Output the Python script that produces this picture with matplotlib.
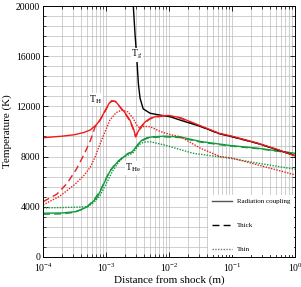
import numpy as np
import matplotlib
matplotlib.use('Agg')
from matplotlib import pyplot as plt
from matplotlib.ticker import MultipleLocator, LogLocator, NullFormatter

plt.rcParams['font.family'] = 'serif'
plt.rcParams['font.serif'] = ['Liberation Serif', 'DejaVu Serif']
plt.rcParams['mathtext.fontset'] = 'stix'

# distances are stored as log10(m)
# T_H, radiation coupling
h_coupled_x = [-4.0, -3.7, -3.5, -3.35, -3.25, -3.15, -3.08, -3.0, -2.95, -2.91, -2.85, -2.78, -2.70,
               -2.62, -2.56, -2.53, -2.50, -2.45, -2.38, -2.30, -2.20, -2.10, -2.0, -1.82, -1.5, -1.2,
               -1.0, -0.6, -0.3, 0.0]
h_coupled_t = [9500, 9620, 9740, 9920, 10120, 10550, 11050, 11800, 12250, 12450, 12400, 11980, 11500,
               10900, 10150, 9600, 9900, 10350, 10750, 11050, 11200, 11260, 11270, 11100, 10450, 9850,
               9620, 9080, 8600, 8050]
# T_H, thick
h_thick_x = [-4.0, -3.78, -3.62, -3.47, -3.35, -3.25, -3.175, -3.095, -3.0, -2.95, -2.91, -2.85, -2.78,
             -2.70, -2.62, -2.56, -2.53, -2.50, -2.45, -2.38, -2.30, -2.20, -2.10, -2.0, -1.82, -1.5,
             -1.2, -1.0, -0.6, -0.3, 0.0]
h_thick_t = [4400, 5000, 5850, 7000, 8150, 9250, 10350, 10880, 11750, 12200, 12420, 12380, 11950,
             11450, 10820, 10080, 9560, 9860, 10300, 10720, 11000, 11150, 11220, 11220, 11060, 10400,
             9820, 9580, 9050, 8570, 8080]
# T_H, thin
h_thin_x = [-4.0, -3.73, -3.49, -3.35, -3.25, -3.17, -3.095, -2.94, -2.84, -2.75, -2.65, -2.57, -2.51,
            -2.46, -2.40, -2.30, -2.14, -1.98, -1.82, -1.5, -1.19, -1.0, -0.59, 0.0]
h_thin_t = [4140, 4850, 5800, 6500, 7150, 8000, 9000, 10900, 11500, 11700, 11550, 11050, 10500,
            10250, 10400, 10380, 10000, 9750, 9580, 8660, 8000, 7880, 7330, 6540]

# T_He, radiation coupling
he_coupled_x = [-4.0, -3.7, -3.47, -3.3, -3.15, -3.095, -2.99, -2.94, -2.88, -2.81, -2.725, -2.65, -2.59,
                -2.54, -2.49, -2.43, -2.35, -2.25, -2.06, -1.82, -1.5, -1.03, -0.59, 0.0]
he_coupled_t = [3480, 3500, 3610, 3980, 4680, 5200, 6300, 6800, 7200, 7600, 7950, 8250, 8350,
                8650, 9000, 9300, 9500, 9580, 9620, 9560, 9200, 8880, 8660, 8260]
# T_He, thick
he_thick_x = [-4.0, -3.7, -3.55, -3.4, -3.3, -3.2, -3.095, -2.99, -2.94, -2.88, -2.81, -2.725, -2.65,
              -2.59, -2.54, -2.49, -2.43, -2.35, -2.25, -2.06, -1.82, -1.5, -1.03, -0.59, 0.0]
he_thick_t = [3400, 3430, 3520, 3750, 4000, 4480, 5250, 6350, 6850, 7230, 7620, 7960, 8240,
              8330, 8620, 8960, 9250, 9450, 9530, 9570, 9510, 9150, 8840, 8630, 8240]
# T_He, thin
he_thin_x = [-4.0, -3.7, -3.5, -3.3, -3.2, -3.1, -3.0, -2.9, -2.8, -2.72, -2.65, -2.58, -2.52, -2.46,
             -2.40, -2.30, -2.14, -1.98, -1.62, -1.03, -0.59, 0.0]
he_thin_t = [3900, 3930, 3960, 4000, 4300, 4850, 5800, 6800, 7550, 7950, 8120, 8230, 8650, 9000,
             9150, 9180, 9000, 8790, 8260, 7860, 7470, 6990]

# gas temperature T_g, radiation coupling
g_coupled_x = [-2.575, -2.567, -2.54, -2.513, -2.487, -2.46, -2.41, -2.30, -2.14, -1.98, -1.82, -1.5,
               -1.2, -1.0, -0.6, -0.3, 0.0]
g_coupled_t = [21000, 20000, 17800, 15960, 13840, 12650, 11800, 11450, 11300, 11170, 10900, 10400,
               9820, 9580, 9060, 8570, 8080]

legend_labels = ['Radiation coupling', 'Thick', 'Thin']

red = '#ee1c1c'
green = '#129a3c'
dashed = (0, (5, 3))
dotted = (0, (1, 1))


def to_m(x):
    return 10.0 ** np.array(x)


fig = plt.figure(figsize=(3.01, 2.87), dpi=100)
ax = fig.add_axes([0.143, 0.105, 0.837, 0.874])

ax.plot(to_m(he_thin_x), he_thin_t, color=green, ls=dotted, lw=1.0)
ax.plot(to_m(he_thick_x), he_thick_t, color=green, ls=dashed, lw=1.0)
ax.plot(to_m(he_coupled_x), he_coupled_t, color=green, lw=1.0)
ax.plot(to_m(h_thin_x), h_thin_t, color=red, ls=dotted, lw=1.0)
ax.plot(to_m(h_thick_x), h_thick_t, color=red, ls=dashed, lw=1.0)
ax.plot(to_m(g_coupled_x), g_coupled_t, color='black', lw=1.0)
ax.plot(to_m(h_coupled_x), h_coupled_t, color=red, lw=1.0)

box = dict(facecolor='white', edgecolor='none', pad=0.5)
ax.text(3.1e-3, 16100, r'T$_{\rm g}$', fontsize=7, ha='center', va='center', bbox=box)
ax.text(6.9e-4, 12550, r'T$_{\rm H}$', fontsize=7, ha='center', va='center', bbox=box)
ax.text(2.7e-3, 7100, r'T$_{\rm He}$', fontsize=7, ha='center', va='center', bbox=box)

# legend with grey proxy lines
handles = [plt.Line2D([], [], color='#555555', lw=1.0),
           plt.Line2D([], [], color='black', ls=dashed, lw=1.0),
           plt.Line2D([], [], color='#777777', ls=dotted, lw=1.0)]
leg = ax.legend(handles, legend_labels, loc='lower right', fontsize=5, frameon=True,
                labelspacing=2.6, handlelength=3.0, handletextpad=0.6, borderpad=0.5,
                borderaxespad=0.2, fancybox=False)
leg.get_frame().set_edgecolor('none')
leg.get_frame().set_facecolor('white')
leg.get_frame().set_alpha(1.0)

ax.set_xscale('log')
ax.set_xlim(1e-4, 1)
ax.set_ylim(0, 20000)
ax.yaxis.set_major_locator(MultipleLocator(4000))
ax.yaxis.set_minor_locator(MultipleLocator(800))
ax.xaxis.set_major_locator(LogLocator(base=10, numticks=10))
ax.xaxis.set_minor_locator(LogLocator(base=10, subs=np.arange(2, 10), numticks=20))
ax.xaxis.set_minor_formatter(NullFormatter())

ax.grid(True, which='both', color='#bcbcbc', lw=0.5)
ax.set_axisbelow(True)
ax.tick_params(which='both', direction='in', top=True, right=True, labelsize=7)
ax.tick_params(axis='x', pad=3.5)
ax.tick_params(axis='y', pad=2)
ax.tick_params(which='major', length=3.5, width=0.6)
ax.tick_params(which='minor', length=2, width=0.5)
for s in ax.spines.values():
    s.set_linewidth(0.7)

ax.set_xlabel('Distance from shock (m)', fontsize=8, labelpad=1)
ax.set_ylabel('Temperature (K)', fontsize=8, labelpad=3)

fig.savefig('out.png', dpi=100)
